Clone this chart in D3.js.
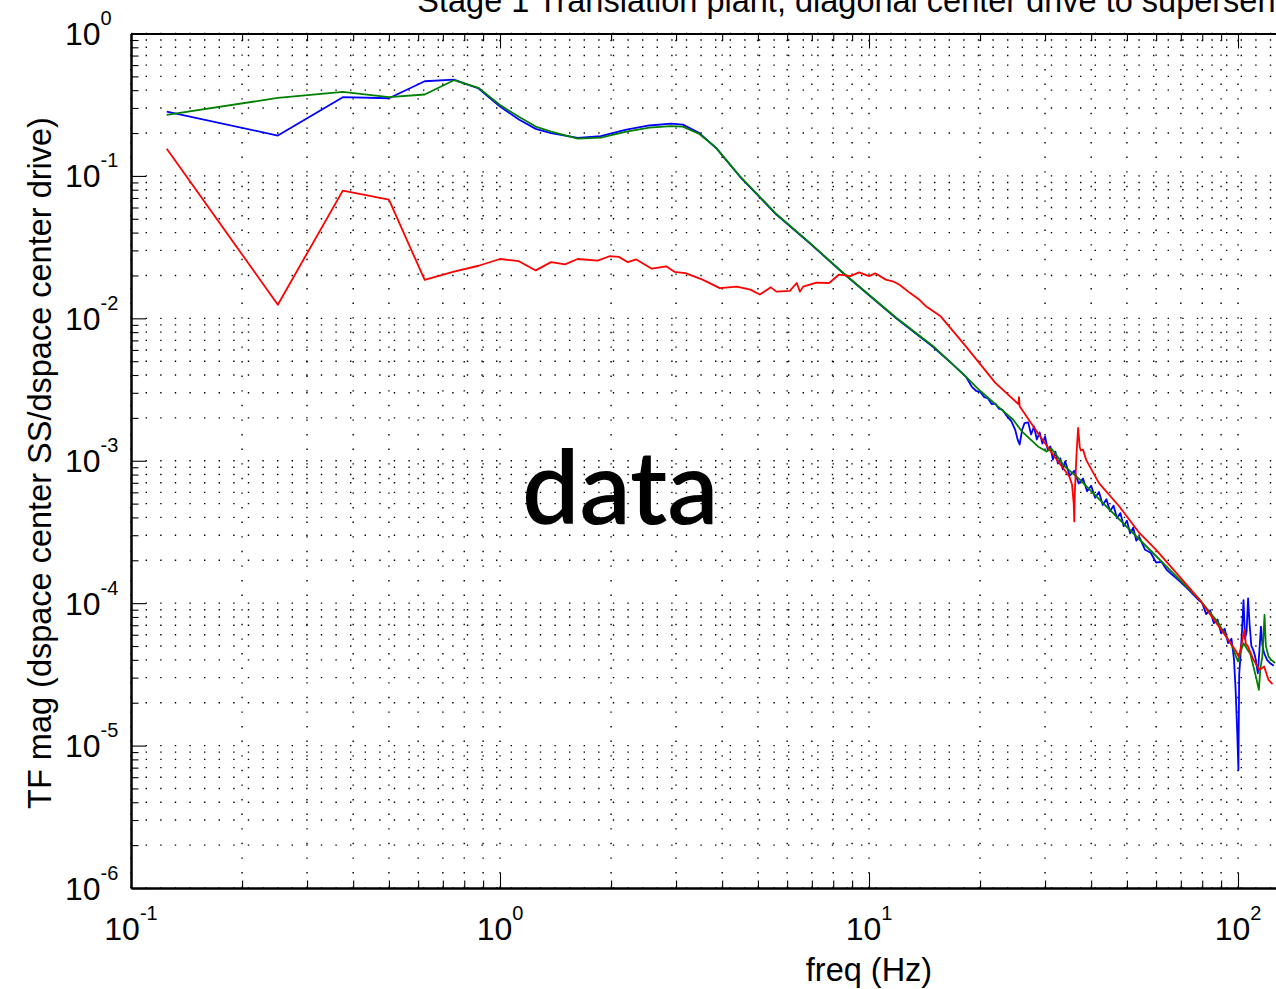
<!DOCTYPE html>
<html>
<head>
<meta charset="utf-8">
<script src="https://cdn.jsdelivr.net/npm/d3@7"></script>
<style>
  html, body { margin: 0; padding: 0; background: #fff; overflow: hidden; }
  svg { display: block; }
  text { font-family: "Liberation Sans", Arial, Helvetica, sans-serif; fill: #000; }
</style>
</head>
<body>
<svg id="chart" width="1276" height="989"></svg>
<script>
// Axis decades (exponents of ten) and minor tick multipliers
const xDecades = [-1, 0, 1, 2, 3];
const yDecades = [-6, -5, -4, -3, -2, -1, 0];
const minorSteps = [2, 3, 4, 5, 6, 7, 8, 9];

const titleText = "Stage 1 Translation plant, diagonal center drive to supersensor";
const xLabel = "freq (Hz)";
const yLabel = "TF mag (dspace center SS/dspace center drive)";
const noteText = "data";

// Transfer-function magnitude, [frequency Hz, magnitude]
const blueTF = [
  [0.125, 0.283], [0.25, 0.192], [0.375, 0.357], [0.5, 0.351], [0.625, 0.462],
  [0.75, 0.475], [0.875, 0.411], [1.0, 0.307], [1.125, 0.249], [1.25, 0.214],
  [1.375, 0.2], [1.625, 0.185], [1.875, 0.19], [2.2, 0.2116], [2.54, 0.226],
  [2.91, 0.233], [3.13, 0.229], [3.47, 0.2], [3.85, 0.157], [4.46, 0.0994],
  [5.61, 0.0535], [6.9, 0.0338], [8.5, 0.0208], [11.85, 0.01], [14.9, 0.0063],
  [16.5, 0.005], [18.3, 0.0039], [19.0, 0.0033], [19.5, 0.0031], [20.0, 0.00305],
  [20.5, 0.0028], [21.0, 0.00275], [21.5, 0.0025], [22.0, 0.00252], [22.5, 0.00232],
  [23.0, 0.00228], [23.5, 0.0021], [24.3, 0.0019], [24.9, 0.00165], [25.3, 0.0014],
  [25.6, 0.0013], [26.0, 0.00165], [26.4, 0.00184], [27.0, 0.00186], [27.5, 0.00153],
  [28.0, 0.00174], [28.5, 0.00141], [29.0, 0.00158], [29.5, 0.00132], [30.0, 0.00148],
  [30.5, 0.0012], [31.0, 0.00126], [31.5, 0.00102], [32.0, 0.00116], [32.5, 0.000955],
  [33.0, 0.00104], [33.5, 0.00087], [34.0, 0.00099], [35.0, 0.000785], [36.0, 0.000851],
  [37.0, 0.000692], [38.0, 0.00075], [39.0, 0.00061], [40.0, 0.000668], [41.0, 0.00055],
  [42.0, 0.000603], [43.0, 0.000489], [44.0, 0.000537], [45.0, 0.000442], [46.0, 0.000484],
  [47.0, 0.000394], [48.0, 0.000429], [49.0, 0.000347], [50.0, 0.00038], [51.0, 0.000309],
  [52.0, 0.000339], [53.0, 0.000275], [54.0, 0.000292], [56.0, 0.000237], [58.0, 0.000226],
  [60.0, 0.000193], [62.0, 0.000195], [64.0, 0.000172], [66.0, 0.00016], [68.0, 0.00015],
  [70.0, 0.00014], [72.0, 0.000131], [75.0, 0.0001175], [78.0, 0.000106], [80.0, 0.0001],
  [82.0, 0.0000838], [84.0, 0.0000891], [86.0, 0.0000724], [88.0, 0.0000767], [90.0, 0.0000614],
  [92.0, 0.0000661], [94.0, 0.0000525], [96.0, 0.0000562], [97.5, 0.0000407], [98.5, 0.0000251],
  [99.5, 0.0000126], [100.25, 0.00000674], [100.75, 0.0000316], [101.5, 0.0000417], [102.5, 0.000063],
  [103.5, 0.000105], [104.5, 0.0000562], [105.5, 0.000063], [106.5, 0.000108], [107.5, 0.0000708],
  [108.7, 0.0000501], [110.0, 0.0000468], [111.3, 0.0000422], [113.2, 0.0000322], [114.5, 0.0000501],
  [115.4, 0.0000685], [116.5, 0.0000501], [117.7, 0.0000446], [120.0, 0.0000398], [122.0, 0.000038],
  [125.0, 0.0000363]
];

const greenTF = [
  [0.125, 0.268], [0.25, 0.353], [0.375, 0.389], [0.5, 0.357], [0.625, 0.373],
  [0.75, 0.47], [0.875, 0.415], [1.0, 0.315], [1.125, 0.26], [1.25, 0.222],
  [1.375, 0.205], [1.625, 0.183], [1.875, 0.186], [2.2, 0.205], [2.54, 0.218],
  [2.91, 0.224], [3.13, 0.222], [3.47, 0.197], [3.85, 0.158], [4.46, 0.1],
  [5.61, 0.054], [6.9, 0.034], [8.5, 0.0209], [11.85, 0.0101], [14.9, 0.0064],
  [18.3, 0.0039], [20.0, 0.0031], [22.0, 0.0025], [23.5, 0.00215], [24.6, 0.00194],
  [26.0, 0.0016], [28.7, 0.00126], [30.3, 0.00116], [31.2, 0.00122], [32.4, 0.00107],
  [33.8, 0.00092], [37.2, 0.00074], [45.0, 0.00045], [56.5, 0.00025], [78.9, 0.000105],
  [88.0, 0.0000741], [96.6, 0.0000495], [98.5, 0.000043], [100.0, 0.000039], [101.5, 0.000045],
  [103.5, 0.0000523], [106.5, 0.0000465], [108.0, 0.000044], [110.1, 0.0000359], [112.0, 0.00003],
  [113.9, 0.0000246], [115.0, 0.000035], [116.4, 0.0000422], [117.3, 0.00006], [118.0, 0.0000828],
  [119.0, 0.00005], [121.0, 0.0000422], [123.0, 0.00004], [126.0, 0.000038]
];

const redTF = [
  [0.125, 0.155], [0.25, 0.01247], [0.375, 0.0789], [0.5, 0.0682], [0.625, 0.0186],
  [0.75, 0.0213], [0.875, 0.0234], [1.0, 0.0261], [1.125, 0.0252], [1.25, 0.0217],
  [1.375, 0.0248], [1.5, 0.0239], [1.625, 0.0261], [1.84, 0.0254], [1.98, 0.0273],
  [2.1, 0.027], [2.22, 0.0248], [2.34, 0.0259], [2.58, 0.0223], [2.82, 0.0232],
  [2.97, 0.0212], [3.18, 0.0208], [3.54, 0.0187], [3.94, 0.0163], [4.38, 0.0167],
  [4.77, 0.0159], [5.06, 0.0147], [5.42, 0.0165], [5.61, 0.0154], [6.1, 0.0156],
  [6.37, 0.0177], [6.5, 0.0154], [6.63, 0.0167], [7.2, 0.0178], [7.8, 0.0177],
  [8.3, 0.0203], [8.9, 0.0198], [9.4, 0.021], [10.0, 0.0198], [10.4, 0.0207],
  [11.1, 0.0187], [11.6, 0.0182], [12.1, 0.0172], [12.9, 0.0151], [13.7, 0.0135],
  [14.3, 0.0121], [15.6, 0.0104], [18.3, 0.00635], [22.0, 0.00352], [25.4, 0.0025],
  [25.5, 0.0028], [25.6, 0.00241], [28.7, 0.00156], [31.8, 0.00107], [34.9, 0.000776],
  [35.5, 0.00068], [35.875, 0.0005], [36.0, 0.000375], [36.125, 0.0006], [36.5, 0.0011],
  [36.875, 0.0017], [37.25, 0.00125], [37.5, 0.00118], [38.0, 0.0012], [38.8, 0.00101],
  [42.0, 0.000697], [47.7, 0.000477], [54.1, 0.00031], [60.0, 0.000237], [70.0, 0.00015],
  [78.9, 0.000105], [92.8, 0.0000583], [98.5, 0.0000465], [100.5, 0.000042], [102.0, 0.00005],
  [104.1, 0.000065], [105.0, 0.000052], [106.5, 0.0000495], [110.1, 0.00004], [114.4, 0.000034],
  [117.7, 0.0000359], [121.0, 0.0000289], [124.0, 0.000027]
];

const seriesList = [
  { data: blueTF, color: "#0000ff" },
  { data: greenTF, color: "#008000" },
  { data: redTF, color: "#ff0000" }
];

// Plot box geometry
const figWidth = 1276;
const boxLeft = 131, decadeW = 369, boxTop = 33.5, boxBottom = 888;
const boxRight = boxLeft + decadeW * (xDecades.length - 1);

const pow10 = d => Math.pow(10, d);
const x = d3.scaleLog().domain([pow10(xDecades[0]), pow10(xDecades[xDecades.length - 1])]).range([boxLeft, boxRight]);
const y = d3.scaleLog().domain([pow10(yDecades[0]), pow10(yDecades[yDecades.length - 1])]).range([boxBottom, boxTop]);

const xMajor = xDecades.map(pow10);
const yMajor = yDecades.map(pow10);
const xMinor = xDecades.slice(0, -1).flatMap(d => minorSteps.map(m => m * pow10(d)));
const yMinor = yDecades.slice(0, -1).flatMap(d => minorSteps.map(m => m * pow10(d)));

const svg = d3.select("#chart");

svg.append("defs").append("clipPath").attr("id", "plotClip")
  .append("rect").attr("x", boxLeft).attr("y", boxTop)
  .attr("width", boxRight - boxLeft).attr("height", boxBottom - boxTop);

// Dotted grid (major and minor)
const grid = svg.append("g").attr("stroke", "#000").attr("stroke-width", 1.4)
  .attr("stroke-dasharray", "1.4,13.2").attr("fill", "none");
grid.selectAll("line.vx").data(xMajor.concat(xMinor)).join("line")
  .attr("class", "vx")
  .attr("x1", d => x(d)).attr("x2", d => x(d))
  .attr("y1", boxBottom).attr("y2", boxTop);
grid.selectAll("line.hy").data(yMajor.concat(yMinor)).join("line")
  .attr("class", "hy")
  .attr("x1", boxLeft).attr("x2", boxRight)
  .attr("y1", d => y(d)).attr("y2", d => y(d));

// Data curves
const line = d3.line().x(d => x(d[0])).y(d => y(d[1]));
const curves = svg.append("g").attr("clip-path", "url(#plotClip)");
seriesList.forEach(s => {
  curves.append("path").datum(s.data)
    .attr("d", line)
    .attr("fill", "none")
    .attr("stroke", s.color)
    .attr("stroke-width", 1.8)
    .attr("stroke-linejoin", "round");
});

// Axes: inward ticks on all four sides
const majorLen = 15, minorLen = 7.5;
function styleAxis(g) {
  g.select(".domain").attr("stroke", "#000").attr("stroke-width", 2);
  g.selectAll(".tick line").attr("stroke", "#000").attr("stroke-width", 1.1);
  g.selectAll(".tick text").remove();
}
function addAxis(gen, tx, ty, values, len) {
  svg.append("g").attr("transform", `translate(${tx},${ty})`)
    .call(gen.tickValues(values).tickSizeInner(-len).tickSizeOuter(0).tickFormat(""))
    .call(styleAxis);
}
addAxis(d3.axisBottom(x), 0, boxBottom, xMinor, minorLen);
addAxis(d3.axisBottom(x), 0, boxBottom, xMajor, majorLen);
addAxis(d3.axisTop(x), 0, boxTop, xMinor, minorLen);
addAxis(d3.axisTop(x), 0, boxTop, xMajor, majorLen);
addAxis(d3.axisLeft(y), boxLeft, 0, yMinor, minorLen);
addAxis(d3.axisLeft(y), boxLeft, 0, yMajor, majorLen);
addAxis(d3.axisRight(y), boxRight, 0, yMinor, minorLen);
addAxis(d3.axisRight(y), boxRight, 0, yMajor, majorLen);

// Power-of-ten tick labels
const baseSize = 32, expSize = 20, expRise = 20;
function powerLabel(g, exp) {
  g.append("tspan").text("10");
  g.append("tspan").attr("font-size", expSize).attr("dy", -expRise).text(String(exp));
}
yDecades.forEach(d => {
  const t = svg.append("text")
    .attr("x", 65).attr("y", y(pow10(d)) + 11.5)
    .attr("font-size", baseSize);
  powerLabel(t, d);
});
// only decades whose labels land inside the figure
xDecades.filter(d => x(pow10(d)) + 30 < figWidth).forEach(d => {
  const t = svg.append("text")
    .attr("x", x(pow10(d))).attr("y", boxBottom + 52)
    .attr("font-size", baseSize).attr("text-anchor", "middle");
  powerLabel(t, d);
});

// Titles
svg.append("text").attr("x", (boxLeft + boxRight) / 2).attr("y", 12)
  .attr("font-size", 32.5).attr("text-anchor", "middle").text(titleText);
svg.append("text").attr("x", (boxLeft + boxRight) / 2).attr("y", 981)
  .attr("font-size", 32.5).attr("text-anchor", "middle").text(xLabel);
svg.append("text").attr("transform", "translate(51,463) rotate(-90)")
  .attr("font-size", 32.5).attr("text-anchor", "middle").text(yLabel);

// Annotation
svg.append("text").attr("x", 522).attr("y", 524)
  .style("font-family", "Lato, 'Open Sans', sans-serif")
  .attr("font-weight", 600)
  .attr("font-size", 102)
  .text(noteText);
</script>
</body>
</html>
